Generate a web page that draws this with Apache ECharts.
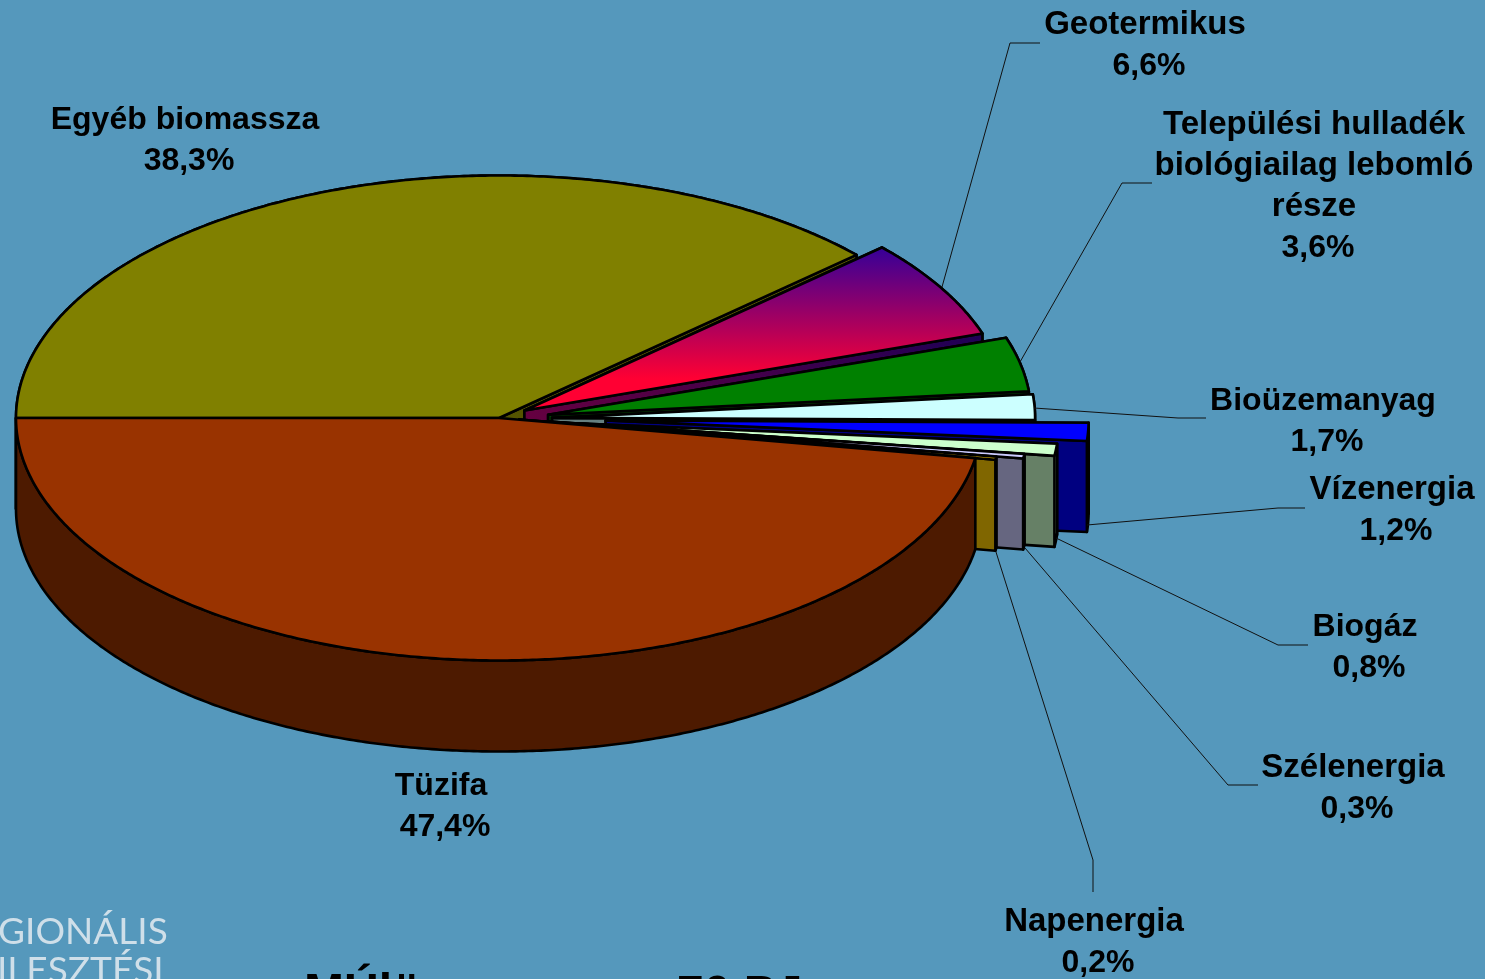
<!DOCTYPE html>
<html>
<head>
<meta charset="utf-8">
<style>html,body{margin:0;padding:0;background:#5598bc;overflow:hidden}#c{width:1485px;height:979px}</style>
<script src="https://cdn.jsdelivr.net/npm/echarts@6/dist/echarts.min.js"></script>
</head>
<body>
<div id="c"></div>
<script>
const categories = ['Egyéb biomassza','Geotermikus','Települési hulladék\nbiológiailag lebomló\nrésze','Bioüzemanyag','Vízenergia','Biogáz','Szélenergia','Napenergia','Tüzifa'];
const shares = [38.3,6.6,3.6,1.7,1.2,0.8,0.3,0.2,47.4];
const explode = [0,0.061,0.104,0.11,0.221,0.16,0.098,0.042,0];
const extraDrop = [0,0,2,1,0,1,0,0,0];
const topColors = ['#808000',null,'#008000','#ccffff','#0000ff','#ccffcc','#ccccff','#ffcc00','#993300'];
const sideColors = ['#555500',null,'#004000','#668080','#000080','#668066','#666680','#806600','#4d1a00'];
// [name centre x, name first-line y]
const labelPos = [[185,120],[1145,25],[1314,125],[1323,401],[1392,490],[1365,627],[1353,768],[1094,922],[441,786]];
const nameSizes = [32,33,33,32,33,32,33,33,32];
const leaders = [null,
  [[942,287],[1010,43],[1040,43]],
  [[1020,362],[1122,183],[1152,183]],
  [[1034,408],[1178,418],[1206,418]],
  [[1087,525],[1278,508],[1305,508]],
  [[1056,538],[1278,645],[1308,645]],
  [[1025,548],[1228,785],[1258,785]],
  [[996,552],[1093,860],[1093,892]],
  null];

const cx=499, cy=418, rx=483, ry=242.5, depth=91;
const total = shares.reduce((a,b)=>a+b,0);
const rad = d=>d*Math.PI/180;
const geoGradTop = new echarts.graphic.LinearGradient(0,0,0,1,[{offset:0,color:'#330099'},{offset:0.8,color:'#ff0033'},{offset:1,color:'#ff0033'}]);
const geoGradSide = new echarts.graphic.LinearGradient(1,0,0,0,[{offset:0,color:'#1f0055'},{offset:1,color:'#660040'}]);
const lineStyle = (fill)=>({fill, stroke:'#000', lineWidth:2.6, lineJoin:'round'});

function renderSlice(params, api){
  const i = params.dataIndex, v = api.value(0);
  let before = 0; for(let k=0;k<i;k++) before += shares[k];
  const a0 = 180 - before/total*360, a1 = a0 - v/total*360, mid=(a0+a1)/2;
  const ox = cx + explode[i]*rx*Math.cos(rad(mid)), oy = cy - explode[i]*ry*Math.sin(rad(mid)) + extraDrop[i];
  const pt = t=>[ox+rx*Math.cos(rad(t)), oy-ry*Math.sin(rad(t))];
  const arc=[]; const n=Math.max(2,Math.ceil((a0-a1)*2));
  for(let k=0;k<=n;k++) arc.push(pt(a0+(a1-a0)*k/n));
  const down = p=>[p[0],p[1]+depth];
  const top = topColors[i]||geoGradTop, side = sideColors[i]||geoGradSide;
  const apex=[ox,oy];
  const poly=(points,fill,z)=>({type:'polygon',z2:i*10+z,shape:{points},style:lineStyle(fill)});
  const kids=[poly(arc.concat(arc.map(down).reverse()),side,0)];
  if(explode[i]>0 || i===0){
    kids.push(poly([apex,arc[0],down(arc[0]),down(apex)],side,1));
    kids.push(poly([apex,arc[n],down(arc[n]),down(apex)],side,2));
  }
  kids.push(poly([apex].concat(arc),top,3));
  return {type:'group',children:kids};
}
function renderLabel(params, api){
  const i = params.dataIndex, pos = labelPos[i];
  const lines = categories[i].split('\n');
  const kids = [];
  const font = s=>'bold '+s+'px "Liberation Sans", Arial, sans-serif';
  lines.forEach((s,k)=>kids.push({type:'text',z2:500,style:{text:s,x:pos[0],y:pos[1]+k*41,font:font(nameSizes[i]),fill:'#000',align:'center',verticalAlign:'middle'}}));
  const pct = api.value(0).toFixed(1).replace('.',',')+'%';
  kids.push({type:'text',z2:500,style:{text:pct,x:pos[0]+4,y:pos[1]+lines.length*41,font:font(32),fill:'#000',align:'center',verticalAlign:'middle'}});
  if(leaders[i]) kids.push({type:'polyline',z2:400,shape:{points:leaders[i]},style:{fill:'none',stroke:'#111',lineWidth:1}});
  return {type:'group',children:kids};
}
const chart = echarts.init(document.getElementById('c'),null,{renderer:'canvas'});
const seriesData = shares.map((v,i)=>({name:categories[i],value:[v]}));
chart.setOption({
  animation:false,
  backgroundColor:'#5598bc',
  tooltip:{show:false},
  series:[
    {type:'custom',name:'slices',coordinateSystem:'none',renderItem:renderSlice,data:seriesData,silent:true,z:2},
    {type:'custom',name:'labels',coordinateSystem:'none',renderItem:renderLabel,data:seriesData,silent:true,z:3}
  ],
  graphic:[
    {type:'text',left:-2,top:914,silent:true,style:{text:'GIONÁLIS',font:'37px "Lato", sans-serif',fill:'#cfdfe9',shadowBlur:5,shadowColor:'rgba(255,255,255,.7)'}},
    {type:'text',left:-3,top:953,silent:true,style:{text:'ILESZTÉSI',font:'37px "Lato", sans-serif',fill:'#cfdfe9',shadowBlur:5,shadowColor:'rgba(255,255,255,.7)'}},
    {type:'text',left:304,top:970,silent:true,style:{text:'MÚlü',font:'bold 48px "Liberation Sans", Arial, sans-serif',fill:'#000'}},
    {type:'text',left:677,top:972,silent:true,style:{text:'70 PJ',font:'bold 48px "Liberation Sans", Arial, sans-serif',fill:'#000'}}
  ]
});
</script>
</body>
</html>
